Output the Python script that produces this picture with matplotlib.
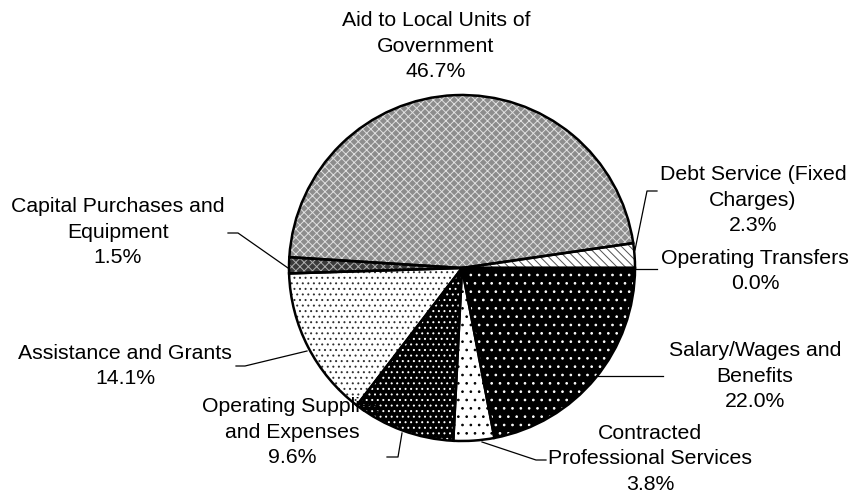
import matplotlib.pyplot as plt

plt.rcParams['font.family'] = ['Liberation Sans', 'DejaVu Sans']
plt.rcParams['hatch.linewidth'] = 0.7

categories = ['Salary/Wages and\nBenefits', 'Contracted\nProfessional Services',
              'Operating Supplies\nand Expenses', 'Assistance and Grants',
              'Capital Purchases and\nEquipment', 'Aid to Local Units of\nGovernment',
              'Debt Service (Fixed\nCharges)', 'Operating Transfers']
shares = [22.0, 3.8, 9.6, 14.1, 1.5, 46.7, 2.3, 0.0]

faces = ['black', 'white', 'black', 'white', '#3a3a3a', '#8c8c8c', 'white', 'white']
hatches = ['..', '..', '...', '...', 'xxxx', 'xxxx', '\\\\\\\\', '']
hatch_colors = ['white', 'black', 'white', '#303030', '#b0b0b0', '#e0e0e0', '#505050', 'black']

# label position (pixels, y down) and leader line points (pixels, y down)
label_pos = [(755, 376), (650, 459), (292, 432), (125, 366), (118, 232), (436, 46), (753, 200), (755, 271)]
leaders = [
    [(597, 376), (663, 376)],
    [(482, 442), (536, 460), (546, 460)],
    [(402, 433), (398, 457), (387, 457)],
    [(307, 351), (245, 366), (236, 366)],
    [(288, 268), (238, 233), (228, 233)],
    None,
    [(635, 250), (647, 191), (657, 191)],
    [(634, 269), (657, 269)],
]

W, H = 851, 497
fig = plt.figure(figsize=(W / 100, H / 100), dpi=100)
ax = fig.add_axes([0, 0, 1, 1])
ax.set_xlim(0, W)
ax.set_ylim(0, H)
ax.axis('off')

center = (462, H - 268)
radius = 173

kw = dict(center=center, radius=radius, startangle=0, counterclock=False, normalize=True)

# fill
wedges, _ = ax.pie(shares, colors=faces, wedgeprops=dict(linewidth=0), **kw)
# hatch overlay
hw, _ = ax.pie(shares, **kw)
for w, h, hc in zip(hw, hatches, hatch_colors):
    w.set_facecolor('none')
    w.set_edgecolor(hc)
    w.set_linewidth(0)
    w.set_hatch(h)
# outlines
ow, _ = ax.pie(shares, **kw)
for w in ow:
    w.set_facecolor('none')
    w.set_edgecolor('black')
    w.set_linewidth(1.8)

ax.set_xlim(0, W)
ax.set_ylim(0, H)
ax.set_aspect('equal')

for name, val, (x, y), pts in zip(categories, shares, label_pos, leaders):
    ax.text(x, H - y, f'{name}\n{val:.1f}%', ha='center', va='center',
            fontsize=15.3, linespacing=1.46, multialignment='center')
    if pts:
        ax.plot([p[0] for p in pts], [H - p[1] for p in pts], color='black', lw=0.9)

fig.savefig('out.png', dpi=100)
